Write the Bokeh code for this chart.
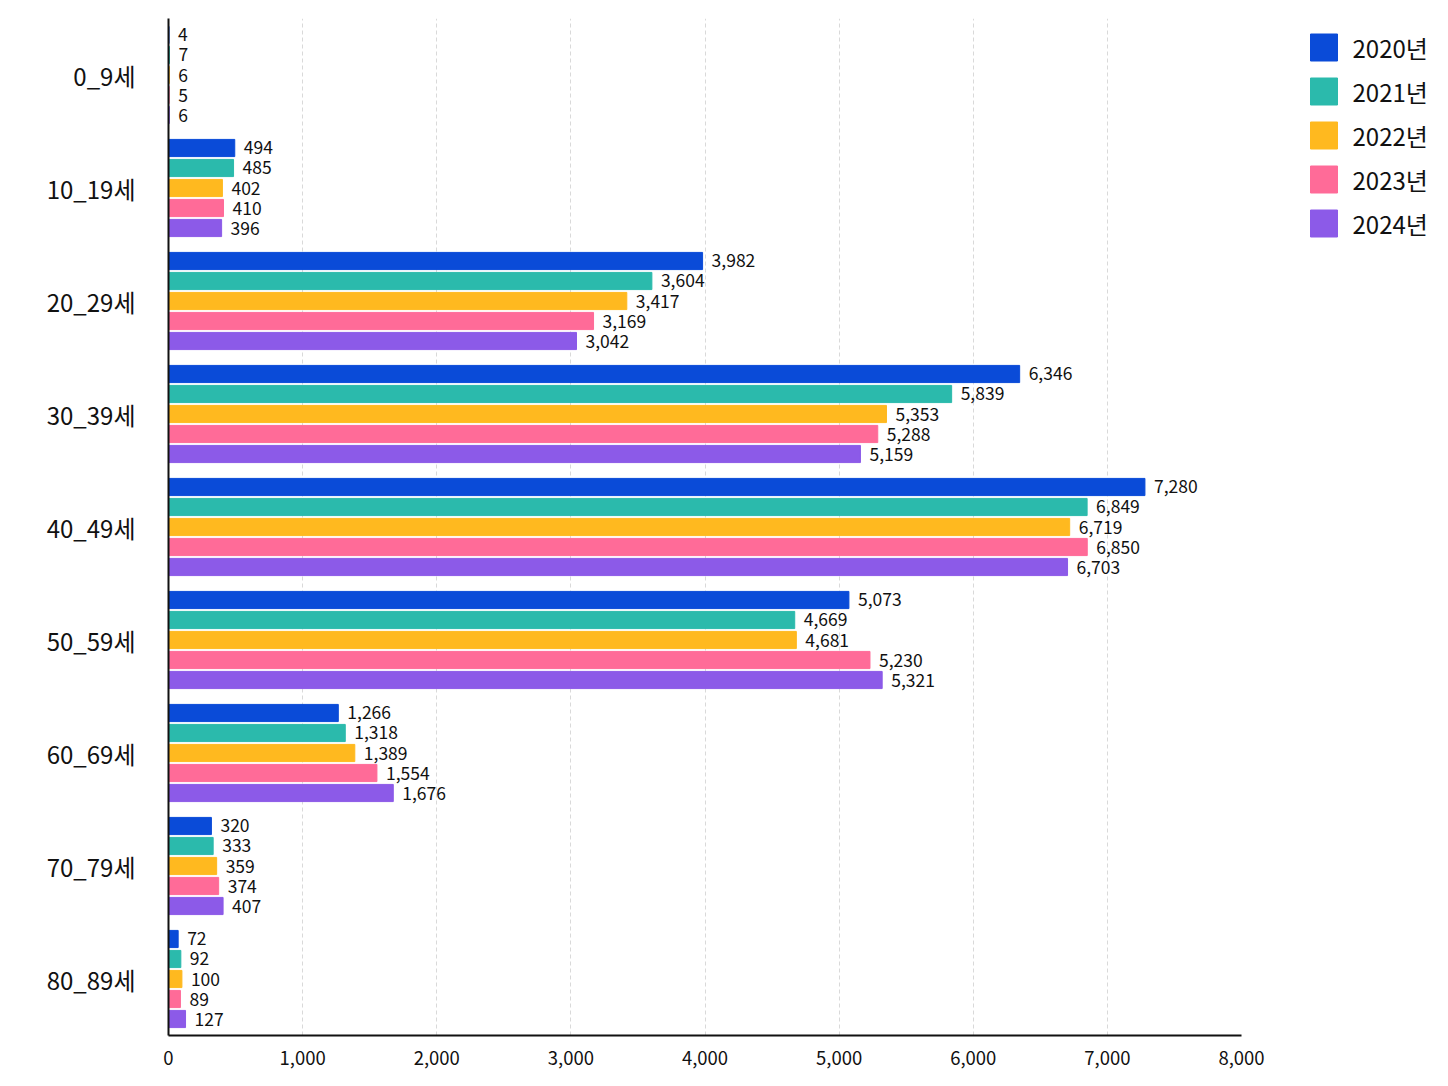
from bokeh.plotting import figure
from bokeh.layouts import row
from bokeh.models import ColumnDataSource, FactorRange, NumeralTickFormatter, FixedTicker, Range1d
from bokeh.transform import dodge
from bokeh.core.properties import value
from bokeh.embed import file_html
from bokeh.resources import INLINE

categories = ["0_9세", "10_19세", "20_29세", "30_39세", "40_49세", "50_59세", "60_69세", "70_79세", "80_89세"]
years = ["2020년", "2021년", "2022년", "2023년", "2024년"]
v2020 = [4, 494, 3982, 6346, 7280, 5073, 1266, 320, 72]
v2021 = [7, 485, 3604, 5839, 6849, 4669, 1318, 333, 92]
v2022 = [6, 402, 3417, 5353, 6719, 4681, 1389, 359, 100]
v2023 = [5, 410, 3169, 5288, 6850, 5230, 1554, 374, 89]
v2024 = [6, 396, 3042, 5159, 6703, 5321, 1676, 407, 127]
x_ticks = [0, 1000, 2000, 3000, 4000, 5000, 6000, 7000, 8000]

series = [v2020, v2021, v2022, v2023, v2024]
colors = ["#0a4bd8", "#2bbaac", "#ffb91f", "#ff6b98", "#8c5ae8"]
offsets = [0.354, 0.177, 0.0, -0.177, -0.354]
FONT = "Noto Sans CJK KR"
H = 1080
TOP, BOTTOM = 18, 45

p = figure(width=1270, height=H, output_backend="svg", toolbar_location=None,
           y_range=FactorRange(factors=list(reversed(categories)), range_padding=0),
           x_range=Range1d(0, 8000),
           min_border_left=168, min_border_right=29, min_border_top=TOP, min_border_bottom=BOTTOM)
p.outline_line_color = None
p.background_fill_color = "white"

for yr, vals, col, off in zip(years, series, colors, offsets):
    src = ColumnDataSource(dict(cat=categories, val=vals, lab=[f"{v:,}" for v in vals]))
    p.hbar(y=dodge("cat", off, range=p.y_range), right="val", left=0, height=0.152,
           source=src, fill_color=col, line_color=col, line_width=1)
    p.text(x="val", y=dodge("cat", off, range=p.y_range), text="lab", source=src,
           x_offset=9, text_baseline="middle", text_align="left",
           text_font=value(FONT), text_font_size="17.5px", text_color="#111111")

p.xaxis.ticker = FixedTicker(ticks=x_ticks)
p.xaxis.formatter = NumeralTickFormatter(format="0,0")
p.xaxis.major_tick_line_color = None
p.xaxis.minor_tick_line_color = None
p.xaxis.axis_line_color = "#111111"
p.xaxis.axis_line_width = 2
p.xaxis.major_label_text_font = FONT
p.xaxis.major_label_text_font_size = "18.5px"
p.xaxis.major_label_text_color = "#111111"
p.xaxis.major_label_standoff = 9

p.yaxis.major_tick_line_color = None
p.yaxis.minor_tick_line_color = None
p.yaxis.axis_line_color = "#111111"
p.yaxis.axis_line_width = 2
p.yaxis.major_label_text_font = FONT
p.yaxis.major_label_text_font_size = "24px"
p.yaxis.major_label_text_color = "#111111"
p.yaxis.major_label_standoff = 27

p.xgrid.ticker = FixedTicker(ticks=x_ticks)
p.xgrid.grid_line_color = "#d9d9d9"
p.xgrid.grid_line_dash = "4 3"
p.ygrid.grid_line_color = None

# legend panel: frame is aligned with the main frame, so use page-pixel units (y downward)
LW = 170
pl = figure(width=LW, height=H, output_backend="svg", toolbar_location=None,
            x_range=Range1d(0, LW), y_range=Range1d(H - BOTTOM, TOP),
            min_border=0, x_axis_location=None, y_axis_location=None)
pl.outline_line_color = None
pl.xgrid.grid_line_color = None
pl.ygrid.grid_line_color = None
row_y = [47 + 44 * i for i in range(len(years))]
lsrc = ColumnDataSource(dict(y=row_y, col=colors, lab=years))
pl.rect(x=53.5, y="y", width=27, height=27, source=lsrc,
        fill_color="col", line_color="col")
pl.text(x=82, y="y", text="lab", source=lsrc, text_baseline="middle", text_align="left",
        text_font=value(FONT), text_font_size="24px", text_color="#111111")

layout = row(p, pl)
open("out.html", "w").write(file_html(layout, INLINE))
